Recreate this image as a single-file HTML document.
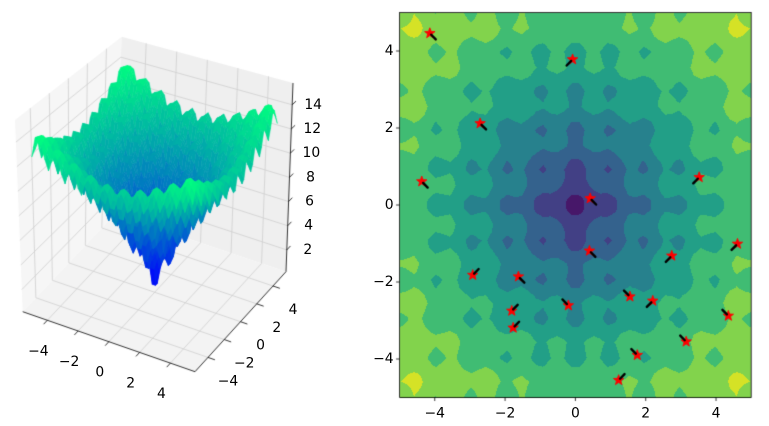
<!DOCTYPE html>
<html><head><meta charset="utf-8"><style>
html,body{margin:0;padding:0;background:#fff}
#wrap{position:relative;width:769px;height:426px;overflow:hidden}
canvas,svg{position:absolute;left:0;top:0}
text{font-family:"DejaVu Sans","Liberation Sans",sans-serif;font-size:13.9px;fill:#000}
</style></head><body>
<div id="wrap">
<canvas id="cv" width="769" height="426"></canvas>
<svg id="sv" width="769" height="426"></svg>
</div>
<script>
// ---- data ----
const ptsX=[-4.14,-0.08,-2.71,-4.37,0.42,3.52,4.61,2.74,0.40,-2.92,-1.62,1.55,2.20,-0.20,-1.81,-1.77,4.35,3.15,1.76,1.23];
const ptsY=[4.46,3.78,2.12,0.61,0.17,0.72,-1.01,-1.32,-1.19,-1.82,-1.86,-2.38,-2.49,-2.61,-2.75,-3.19,-2.88,-3.55,-3.90,-4.55];
const arrU=[0.16,-0.16,0.16,0.16,0.16,-0.16,-0.16,-0.16,0.16,0.16,0.16,-0.16,-0.16,-0.16,0.16,0.16,-0.16,-0.16,-0.16,0.16];
const arrV=[-0.15,-0.15,-0.15,-0.15,-0.15,-0.15,-0.15,-0.15,-0.15,0.15,-0.15,0.15,-0.15,0.15,0.15,0.15,0.15,0.15,0.15,0.15];
const xyTicks=[-4,-2,0,2,4];
const zTicks=[2,4,6,8,10,12,14];
const levels=[0,2,4,6,8,10,12,14,16];

const cv=document.getElementById('cv');const ctx=cv.getContext('2d');
const sv=document.getElementById('sv');const NS='http://www.w3.org/2000/svg';
function ackley(x,y){return -20*Math.exp(-0.2*Math.sqrt(0.5*(x*x+y*y)))-Math.exp(0.5*(Math.cos(2*Math.PI*x)+Math.cos(2*Math.PI*y)))+Math.E+20;}
function txt(x,y,s,anchor,name){const t=document.createElementNS(NS,'text');t.setAttribute('x',x);t.setAttribute('y',y);t.setAttribute('text-anchor',anchor);t.setAttribute('dominant-baseline','central');t.textContent=s;


sv.appendChild(t);}
function fmt(v){return v<0?'\u2212'+(-v):''+v;}

// ---- 3D axes ----
const C={c000:[22.7,311.7],c100:[195,371.7],c110:[286,271.7],c010:[115,214],c001:[15,120],c101:[198,172],c111:[293,83],c011:[121.7,36.7]};
function P(x,y,z){const u=(x+5.6)/11.2,v=(y+5.6)/11.2,w=(z-0.2)/15.6;const r=[0,0];
 for(let k=0;k<2;k++){
  const a=C.c000[k]*(1-u)+C.c100[k]*u, b=C.c010[k]*(1-u)+C.c110[k]*u;
  const c=C.c001[k]*(1-u)+C.c101[k]*u, d=C.c011[k]*(1-u)+C.c111[k]*u;
  const lo=a*(1-v)+b*v, hi=c*(1-v)+d*v; r[k]=lo*(1-w)+hi*w;}
 return r;}
function poly(pts,fill){ctx.beginPath();pts.forEach((p,i)=>i?ctx.lineTo(p[0],p[1]):ctx.moveTo(p[0],p[1]));ctx.closePath();ctx.fillStyle=fill;ctx.fill();}
function line(a,b,col,w){ctx.beginPath();ctx.moveTo(a[0],a[1]);ctx.lineTo(b[0],b[1]);ctx.strokeStyle=col;ctx.lineWidth=w;ctx.stroke();}
const L=-5.6,H=5.6,Z0=0.2,Z1=15.8;
poly([P(L,L,Z0),P(L,H,Z0),P(L,H,Z1),P(L,L,Z1)],'#f6f6f6');
poly([P(L,H,Z0),P(H,H,Z0),P(H,H,Z1),P(L,H,Z1)],'#efefef');
poly([P(L,L,Z0),P(H,L,Z0),P(H,H,Z0),P(L,H,Z0)],'#f3f3f3');
const gc='#cfcfcf';
xyTicks.forEach(t=>{
 line(P(L,t,Z0),P(L,t,Z1),gc,0.8); line(P(t,H,Z0),P(t,H,Z1),gc,0.8);
 line(P(t,L,Z0),P(t,H,Z0),gc,0.8); line(P(L,t,Z0),P(H,t,Z0),gc,0.8);});
zTicks.forEach(z=>{line(P(L,L,z),P(L,H,z),gc,0.8); line(P(L,H,z),P(H,H,z),gc,0.8);});

// surface
const N=50;const G=[];let zmin=1e9,zmax=-1e9;
for(let i=0;i<N;i++){G.push([]);for(let j=0;j<N;j++){const x=-5+10*i/(N-1),y=-5+10*j/(N-1);const z=ackley(x,y);G[i].push(z);zmin=Math.min(zmin,z);zmax=Math.max(zmax,z);}}
const quads=[];
for(let i=0;i<N-1;i++)for(let j=0;j<N-1;j++){const x=-5+10*(i+0.5)/(N-1),y=-5+10*(j+0.5)/(N-1);quads.push([i,j,0.5*x-0.866*y]);}
quads.sort((a,b)=>a[2]-b[2]);
quads.forEach(q=>{const i=q[0],j=q[1];const xs=[i,i+1,i+1,i],ys=[j,j,j+1,j+1];
 const pts=[];let zs=0;for(let k=0;k<4;k++){const z=G[xs[k]][ys[k]];zs+=z;pts.push(P(-5+10*xs[k]/(N-1),-5+10*ys[k]/(N-1),z));}
 const t=(zs/4-zmin)/(zmax-zmin);const col='rgb(0,'+Math.round(255*t)+','+Math.round(255*(1-0.5*t))+')';
 poly(pts,col);ctx.strokeStyle=col;ctx.lineWidth=0.5;ctx.stroke();});

// 3D axis lines, ticks, labels
line(P(L,L,Z0),P(H,L,Z0),'#000',0.8);line(P(H,L,Z0),P(H,H,Z0),'#000',0.8);line(P(H,H,Z0),P(H,H,Z1),'#000',0.8);
xyTicks.forEach(t=>{
 line(P(t,L,Z0),P(t,L-0.45,Z0),'#000',0.8); const a=P(t,L,Z0); txt(a[0]-9,a[1]+31,fmt(t),'middle','x3d-tick-label');
 line(P(H,t,Z0),P(H+0.45,t,Z0),'#000',0.8); const b=P(H,t,Z0); txt(b[0]+20,b[1]+24,fmt(t),'middle','y3d-tick-label');});
zTicks.forEach(z=>{line(P(H,H,z),P(H,H+0.45,z),'#000',0.8);const a=P(H,H,z);txt(a[0]+21,a[1],fmt(z),'middle','z3d-tick-label');});

// ---- contour ----
const X0=399.6,X1=751.2,Y0=12.5,Y1=397.5;
function X2(v){return 575.4+v*35.16;} function Y2(v){return 205-v*38.5;}
const VIR=[[68,1,84],[72,36,117],[65,68,135],[53,95,141],[42,120,142],[33,145,140],[34,168,132],[68,191,112],[122,209,81],[189,223,38],[253,231,37]];
function vir(t){const f=t*10,i=Math.min(9,Math.floor(f)),r=f-i;return VIR[i].map((c,k)=>Math.round(c+(VIR[i+1][k]-c)*r));}
const bandCols=[];for(let b=0;b<levels.length-1;b++)bandCols.push(vir((b+0.5)/(levels.length-1)));
const M=50;const CG=[];for(let i=0;i<M;i++){CG.push([]);for(let j=0;j<M;j++)CG[i].push(ackley(-5+10*i/(M-1),-5+10*j/(M-1)));}
function cval(x,y){let fi=(x+5)/10*(M-1),fj=(y+5)/10*(M-1);fi=Math.max(0,Math.min(M-1.0001,fi));fj=Math.max(0,Math.min(M-1.0001,fj));
 const i=Math.floor(fi),j=Math.floor(fj),a=fi-i,b=fj-j;
 return CG[i][j]*(1-a)*(1-b)+CG[i+1][j]*a*(1-b)+CG[i][j+1]*(1-a)*b+CG[i+1][j+1]*a*b;}
const px0=Math.round(X0),py0=Math.round(Y0),W=Math.round(X1)-px0,Hh=Math.round(Y1)-py0;
const img=ctx.createImageData(W,Hh);
for(let py=0;py<Hh;py++)for(let px=0;px<W;px++){const x=(px0+px+0.5-575.4)/35.16,y=(205-(py0+py+0.5))/38.5;const v=cval(x,y);
 let b=0;while(b<levels.length-2&&v>=levels[b+1])b++;const c=bandCols[b];const o=(py*W+px)*4;img.data[o]=c[0];img.data[o+1]=c[1];img.data[o+2]=c[2];img.data[o+3]=255;}
ctx.putImageData(img,px0,py0);
// arrows and stars
function star(cx,cy,R){ctx.beginPath();for(let k=0;k<10;k++){const r=k%2?R*0.42:R;const a=-Math.PI/2+k*Math.PI/5;const x=cx+r*Math.cos(a),y=cy+r*Math.sin(a);k?ctx.lineTo(x,y):ctx.moveTo(x,y);}ctx.closePath();ctx.fillStyle='#ff0000';ctx.fill();ctx.strokeStyle='#ff0000';ctx.lineWidth=0.8;ctx.stroke();}
for(let k=0;k<ptsX.length;k++){const sx=X2(ptsX[k]),sy=Y2(ptsY[k]);star(sx,sy,5.5);}
for(let k=0;k<ptsX.length;k++){const sx=X2(ptsX[k]),sy=Y2(ptsY[k]);const ex=X2(ptsX[k]+arrU[k]),ey=Y2(ptsY[k]+arrV[k]);
 const dx=ex-sx,dy=ey-sy;ctx.beginPath();ctx.moveTo(sx+dx*0.25,sy+dy*0.25);ctx.lineTo(sx+dx*1.05,sy+dy*1.05);ctx.strokeStyle='#000';ctx.lineWidth=2.4;ctx.lineCap='round';ctx.stroke();}
ctx.lineCap='butt';
ctx.strokeStyle='#000';ctx.lineWidth=0.8;ctx.strokeRect(X0,Y0,X1-X0,Y1-Y0);
xyTicks.forEach(t=>{line([X2(t),Y1],[X2(t),Y1+3.5],'#000',0.8);txt(X2(t),Y1+16,fmt(t),'middle','contour-x-tick-label');
 line([X0,Y2(t)],[X0-3.5,Y2(t)],'#000',0.8);txt(X0-6,Y2(t),fmt(t),'end','contour-y-tick-label');});
</script>
</body></html>
